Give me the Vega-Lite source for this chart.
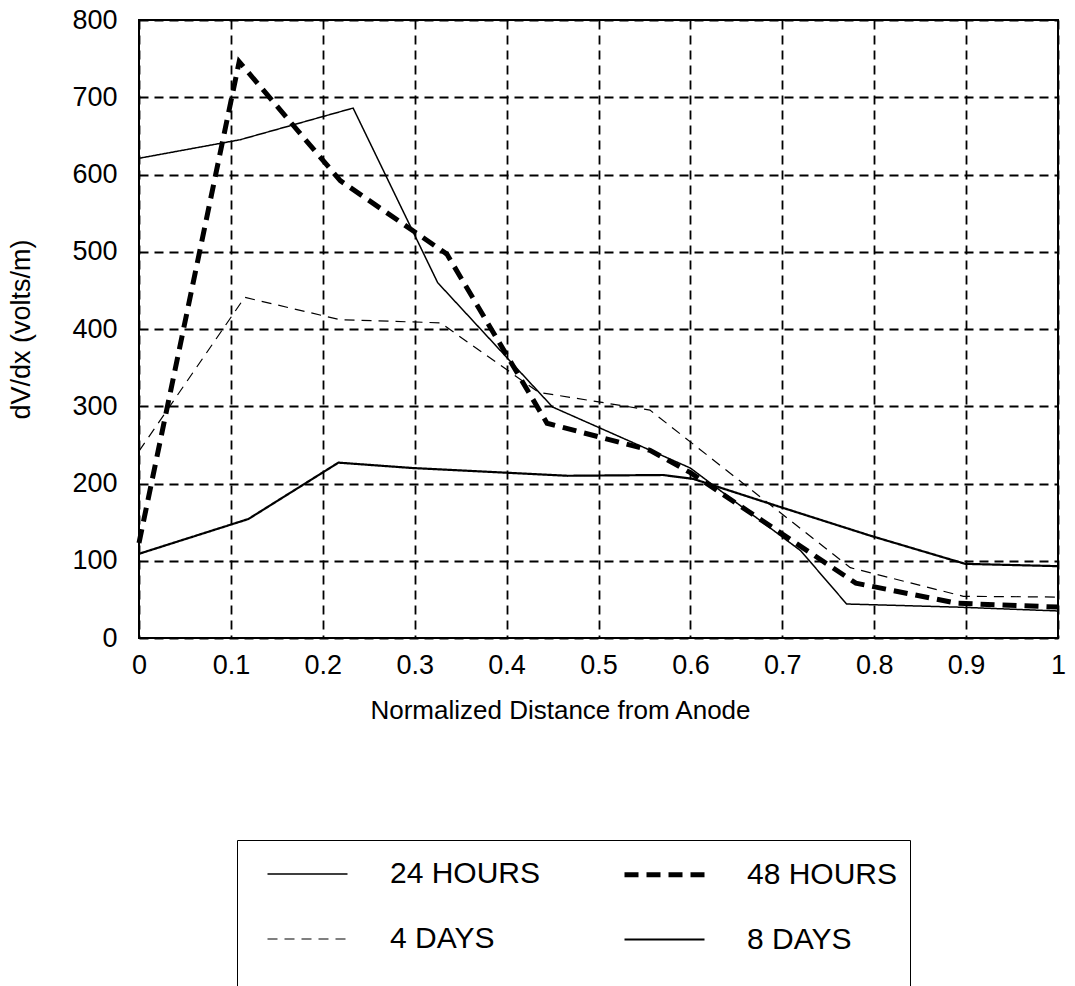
{
  "$schema": "https://vega.github.io/schema/vega-lite/v6.json",
  "width": 919,
  "height": 618,
  "autosize": "none",
  "padding": {"left": 139, "top": 20, "right": 17, "bottom": 348},
  "background": "white",
  "config": {
    "font": "Liberation Sans",
    "view": {"stroke": "black", "strokeWidth": 2}
  },
  "data": {
    "values": [
      {"series": "24 HOURS", "x": 0, "y": 621},
      {"series": "24 HOURS", "x": 0.11, "y": 645},
      {"series": "24 HOURS", "x": 0.233, "y": 686},
      {"series": "24 HOURS", "x": 0.325, "y": 460},
      {"series": "24 HOURS", "x": 0.45, "y": 299},
      {"series": "24 HOURS", "x": 0.6, "y": 220},
      {"series": "24 HOURS", "x": 0.667, "y": 160},
      {"series": "24 HOURS", "x": 0.72, "y": 113},
      {"series": "24 HOURS", "x": 0.77, "y": 44},
      {"series": "24 HOURS", "x": 0.89, "y": 40},
      {"series": "24 HOURS", "x": 1.0, "y": 35},
      {"series": "48 HOURS", "x": 0, "y": 123},
      {"series": "48 HOURS", "x": 0.109, "y": 746},
      {"series": "48 HOURS", "x": 0.219, "y": 592},
      {"series": "48 HOURS", "x": 0.335, "y": 497},
      {"series": "48 HOURS", "x": 0.444, "y": 278},
      {"series": "48 HOURS", "x": 0.556, "y": 243},
      {"series": "48 HOURS", "x": 0.6, "y": 214},
      {"series": "48 HOURS", "x": 0.78, "y": 71},
      {"series": "48 HOURS", "x": 0.89, "y": 45},
      {"series": "48 HOURS", "x": 1.0, "y": 40},
      {"series": "4 DAYS", "x": 0, "y": 242},
      {"series": "4 DAYS", "x": 0.115, "y": 441},
      {"series": "4 DAYS", "x": 0.219, "y": 412},
      {"series": "4 DAYS", "x": 0.328, "y": 408},
      {"series": "4 DAYS", "x": 0.435, "y": 318},
      {"series": "4 DAYS", "x": 0.556, "y": 295},
      {"series": "4 DAYS", "x": 0.774, "y": 91},
      {"series": "4 DAYS", "x": 0.897, "y": 54},
      {"series": "4 DAYS", "x": 1.0, "y": 53},
      {"series": "8 DAYS", "x": 0, "y": 109},
      {"series": "8 DAYS", "x": 0.119, "y": 154},
      {"series": "8 DAYS", "x": 0.217, "y": 227},
      {"series": "8 DAYS", "x": 0.298, "y": 220},
      {"series": "8 DAYS", "x": 0.466, "y": 210},
      {"series": "8 DAYS", "x": 0.57, "y": 211},
      {"series": "8 DAYS", "x": 0.603, "y": 206},
      {"series": "8 DAYS", "x": 0.694, "y": 171},
      {"series": "8 DAYS", "x": 0.797, "y": 132},
      {"series": "8 DAYS", "x": 0.899, "y": 96},
      {"series": "8 DAYS", "x": 1.0, "y": 93}
    ]
  },
  "mark": {"type": "line", "color": "black", "strokeCap": "butt"},
  "encoding": {
    "x": {
      "field": "x",
      "type": "quantitative",
      "scale": {"domain": [0, 1], "nice": false, "zero": false},
      "axis": {
        "title": "Normalized Distance from Anode",
        "values": [0, 0.1, 0.2, 0.3, 0.4, 0.5, 0.6, 0.7, 0.8, 0.9, 1],
        "format": "~g",
        "labelFontSize": 27,
        "labelColor": "black",
        "labelPadding": 14,
        "labelFlush": false,
        "labelOverlap": false,
        "ticks": false,
        "domain": false,
        "grid": true,
        "gridColor": "black",
        "gridDash": [9, 6],
        "gridWidth": 1.8,
        "gridOpacity": 1,
        "titleFontSize": 26,
        "titleFontWeight": "normal",
        "titleColor": "black",
        "titlePadding": 19,
        "titleX": 421
      }
    },
    "y": {
      "field": "y",
      "type": "quantitative",
      "scale": {"domain": [0, 800], "nice": false},
      "axis": {
        "title": "dV/dx (volts/m)",
        "values": [0, 100, 200, 300, 400, 500, 600, 700, 800],
        "labelFontSize": 27,
        "labelColor": "black",
        "labelPadding": 22,
        "ticks": false,
        "domain": false,
        "grid": true,
        "gridColor": "black",
        "gridDash": [9, 6],
        "gridWidth": 1.8,
        "gridOpacity": 1,
        "titleFontSize": 27,
        "titleFontWeight": "normal",
        "titleColor": "black",
        "titlePadding": 36
      }
    },
    "strokeDash": {
      "field": "series",
      "type": "nominal",
      "scale": {
        "type": "ordinal",
        "domain": ["24 HOURS", "48 HOURS", "4 DAYS", "8 DAYS"],
        "range": [[1, 0], [14, 8], [10, 7], [1, 0]]
      },
      "legend": {
        "orient": "none",
        "legendX": 98,
        "legendY": 820,
        "direction": "horizontal",
        "columns": 2,
        "title": "                                                             ",
        "titleOrient": "bottom",
        "titleFontSize": 40,
        "titleLimit": 2000,
        "titlePadding": 10,
        "padding": 12,
        "strokeColor": "black",
        "fillColor": "white",
        "symbolType": "M-0.2,0H3.8",
        "symbolSize": 1600,
        "symbolStrokeColor": "black",
        "labelFontSize": 30,
        "labelColor": "black",
        "labelOffset": 96,
        "labelLimit": 400,
        "columnPadding": 65,
        "rowPadding": 28
      }
    },
    "strokeWidth": {
      "field": "series",
      "type": "nominal",
      "scale": {
        "type": "ordinal",
        "domain": ["24 HOURS", "48 HOURS", "4 DAYS", "8 DAYS"],
        "range": [1.5, 5, 1.2, 2.2]
      }
    }
  }
}
